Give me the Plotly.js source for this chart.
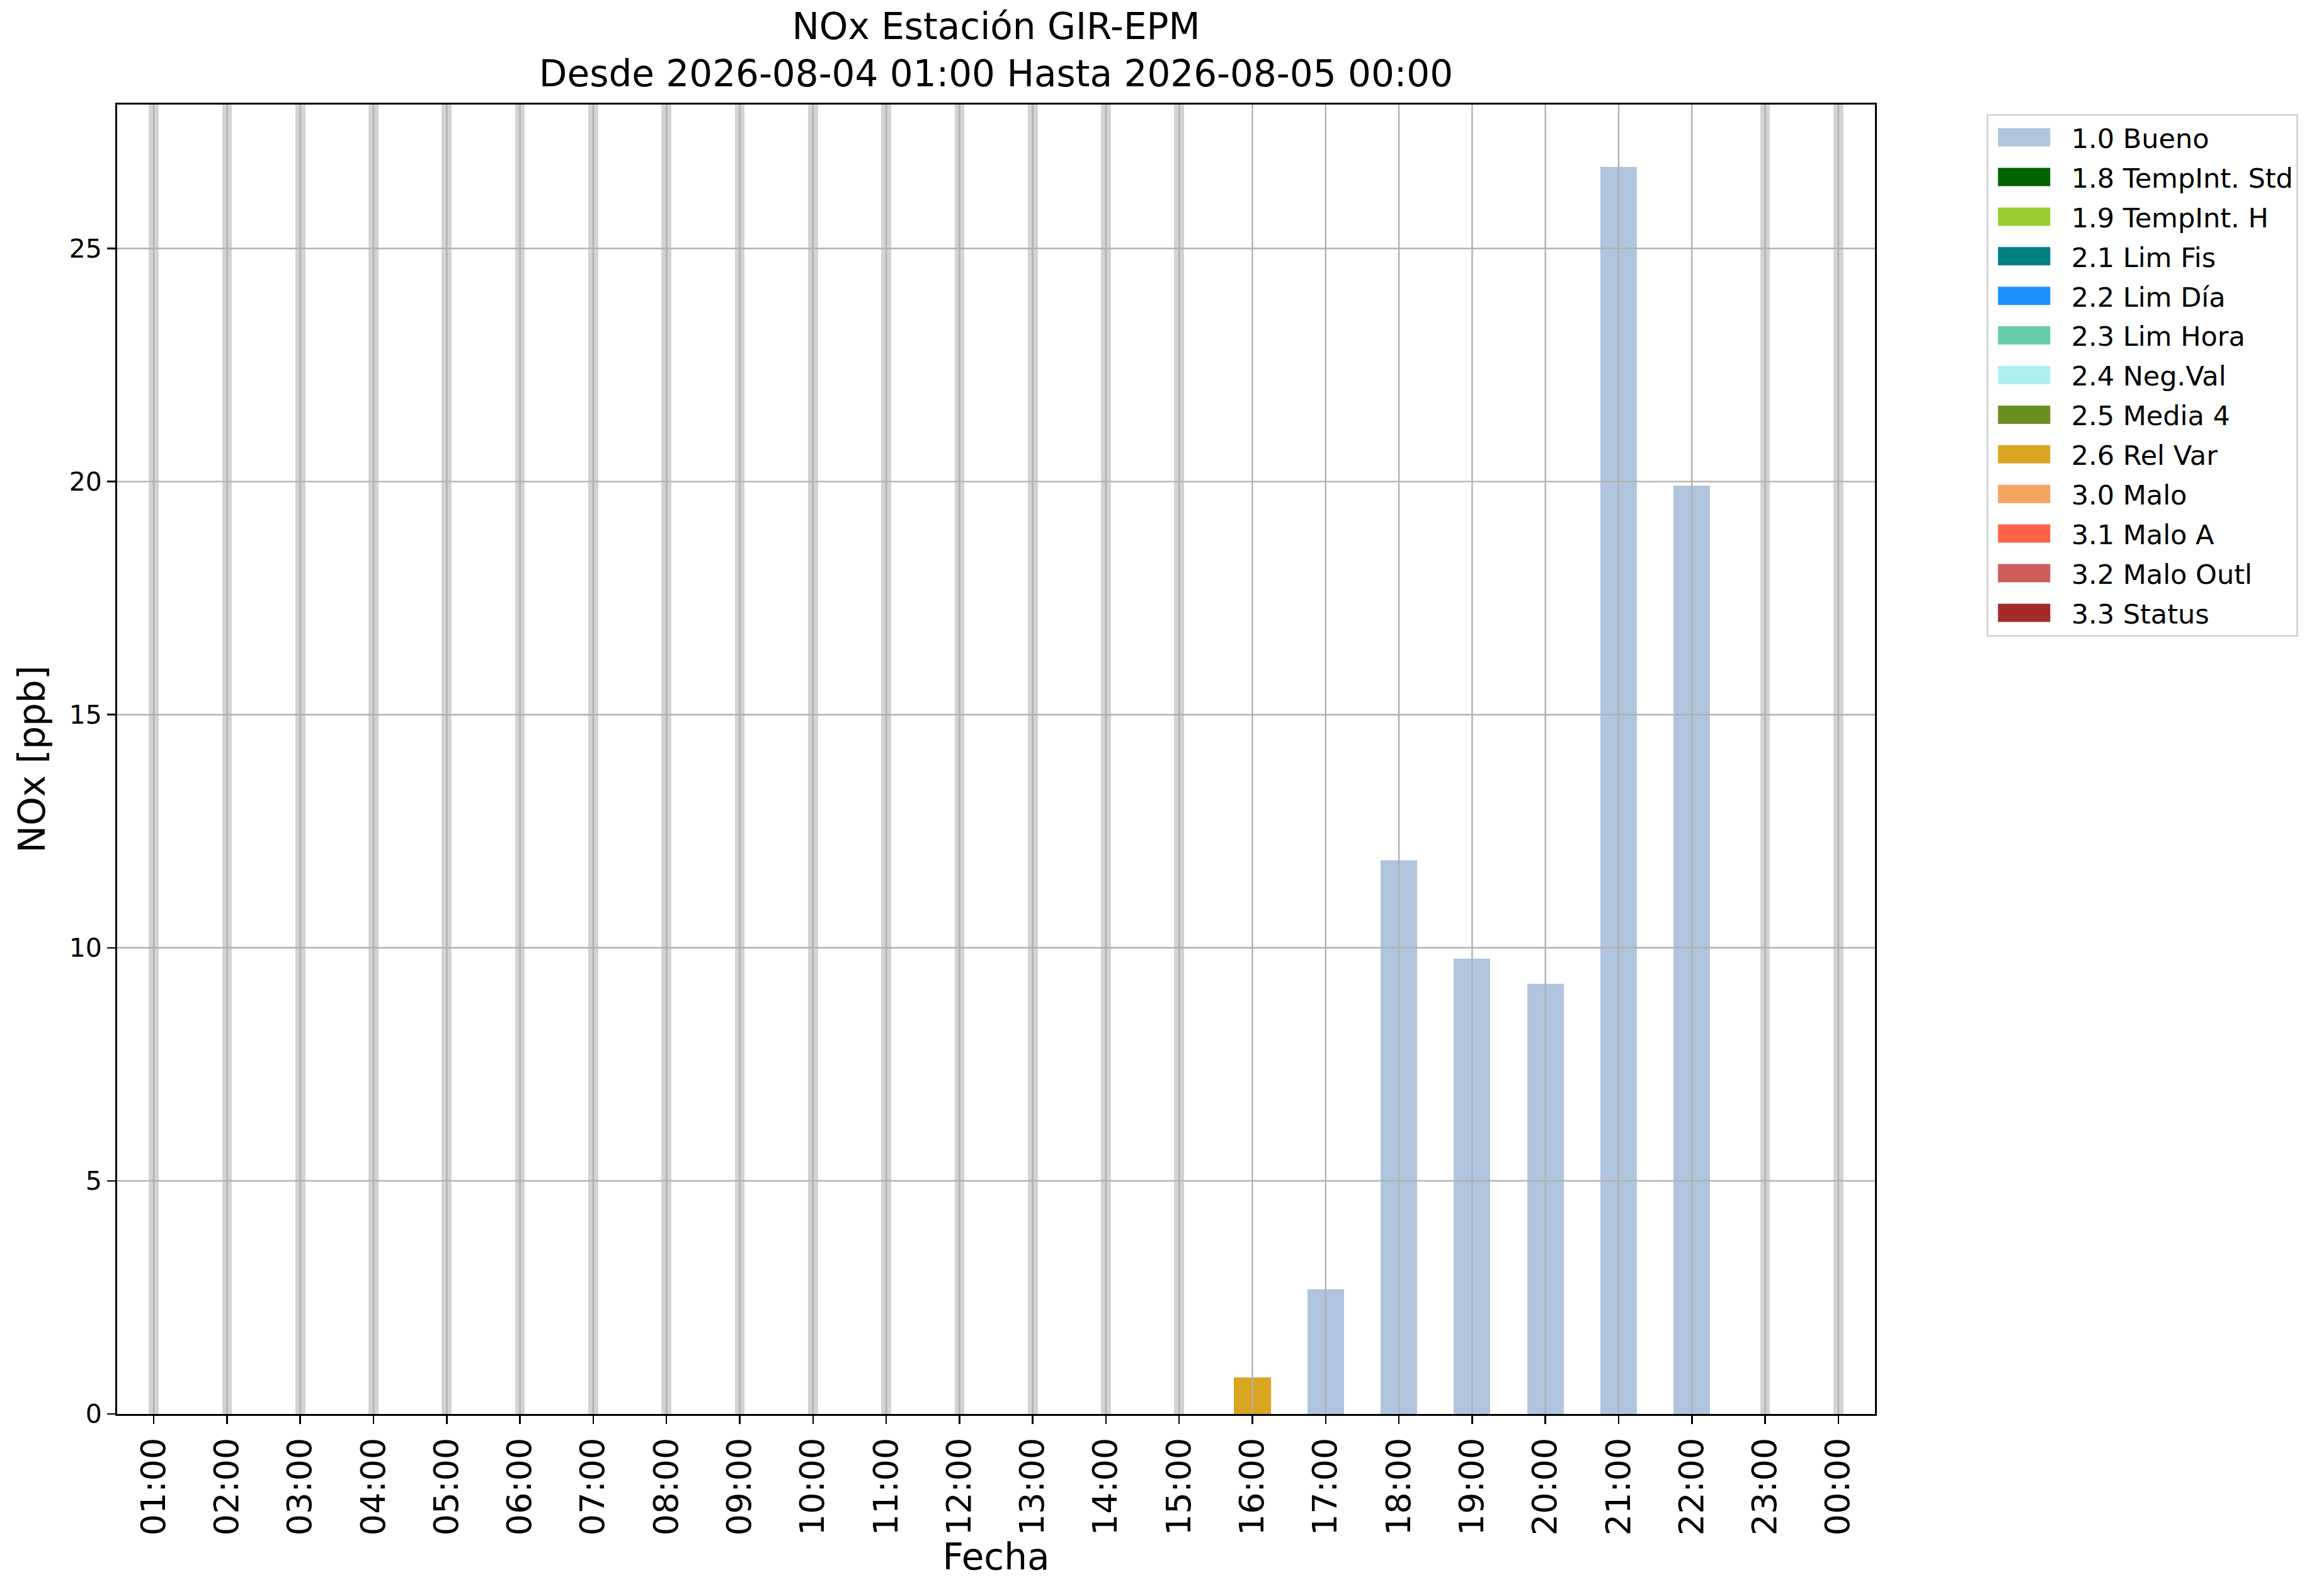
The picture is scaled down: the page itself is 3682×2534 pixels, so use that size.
<!DOCTYPE html>
<html>
<head>
<meta charset="utf-8">
<script src="https://cdn.plot.ly/plotly-3.0.1.min.js"></script>
<style>
  html, body { margin: 0; padding: 0; background: #fff; }
  #chart { width: 3682px; height: 2534px; }
</style>
</head>
<body>
<div id="chart"></div>
<script>
const horas = ['01:00', '02:00', '03:00', '04:00', '05:00', '06:00', '07:00', '08:00',
    '09:00', '10:00', '11:00', '12:00', '13:00', '14:00', '15:00', '16:00',
    '17:00', '18:00', '19:00', '20:00', '21:00', '22:00', '23:00', '00:00'];

// valores de NOx por bandera de calidad (null = sin dato en esa bandera)
const bueno = [null, null, null, null, null, null, null, null,
    null, null, null, null, null, null, null, null,
    2.67, 11.87, 9.77, 9.23, 26.75, 19.92, null, null];
const relVar = [null, null, null, null, null, null, null, null,
    null, null, null, null, null, null, null, 0.79,
    null, null, null, null, null, null, null, null];

// 1 = hora sin dato
const sinDato = [1, 1, 1, 1, 1, 1, 1, 1, 1, 1, 1, 1, 1, 1, 1, 0,
    0, 0, 0, 0, 0, 0, 1, 1];

const banderas = ['1.0 Bueno', '1.8 TempInt. Std', '1.9 TempInt. H', '2.1 Lim Fis',
    '2.2 Lim Día', '2.3 Lim Hora', '2.4 Neg.Val', '2.5 Media 4', '2.6 Rel Var',
    '3.0 Malo', '3.1 Malo A', '3.2 Malo Outl', '3.3 Status'];
const colores = ['#b0c4de', '#006400', '#9acd32', '#008080', '#1e90ff', '#66cdaa',
    '#afeeee', '#6b8e23', '#daa520', '#f4a460', '#ff6347', '#cd5c5c', '#a52a2a'];

const yTicks = [0, 5, 10, 15, 20, 25];

const valoresPorBandera = {
    '1.0 Bueno': bueno,
    '2.6 Rel Var': relVar,
};

const yMax = Math.max(...bueno.filter(v => v != null), ...relVar.filter(v => v != null)) * 1.05;

const FONT = 'DejaVu Sans, Verdana, sans-serif';
const GRID = '#b0b0b0';

const traces = [];

// bandas grises de horas sin dato
traces.push({
    type: 'bar',
    x: horas,
    y: sinDato.map(f => (f ? yMax : null)),
    width: 0.135,
    marker: { color: '#d3d3d3', line: { width: 0 } },
    showlegend: false,
    hoverinfo: 'skip',
});

banderas.forEach((nombre, i) => {
    traces.push({
        type: 'bar',
        name: nombre,
        x: horas,
        y: valoresPorBandera[nombre] ?? horas.map(() => null),
        width: 0.5,
        marker: { color: colores[i], line: { width: 0 } },
        legendgroup: nombre,
    });
});

// rejilla por encima de las barras, como en matplotlib
const shapes = [];
horas.forEach(h => {
    shapes.push({
        type: 'line', layer: 'above', xref: 'x', yref: 'paper',
        x0: h, x1: h, y0: 0, y1: 1,
        line: { color: GRID, width: 2.4 },
    });
});
yTicks.slice(1).forEach(v => {
    shapes.push({
        type: 'line', layer: 'above', xref: 'paper', yref: 'y',
        x0: 0, x1: 1, y0: v, y1: v,
        line: { color: GRID, width: 2.4 },
    });
});

const layout = {
    width: 3682,
    height: 2534,
    barmode: 'stack',
    paper_bgcolor: '#fff',
    plot_bgcolor: '#fff',
    margin: { l: 186, r: 705, t: 166, b: 289 },
    font: { family: FONT, color: '#000' },
    title: {
        text: 'NOx Estación GIR-EPM<br>Desde 2026-08-04 01:00 Hasta 2026-08-05 00:00',
        font: { family: FONT, size: 58, color: '#000' },
        x: 0.5, xref: 'paper', xanchor: 'center',
        y: 1 - 62 / 2534, yref: 'container', yanchor: 'top',
    },
    xaxis: {
        type: 'category',
        range: [-0.5, horas.length - 0.5],
        tickangle: -90,
        tickfont: { family: FONT, size: 54, color: '#000' },
        ticks: 'outside', ticklen: 13, tickwidth: 2.5, tickcolor: '#000',
        showgrid: false, zeroline: false,
        showline: true, linecolor: '#000', linewidth: 3, mirror: true,
        title: { text: 'Fecha', font: { family: FONT, size: 58, color: '#000' }, standoff: 14 },
        automargin: false,
    },
    yaxis: {
        range: [0, yMax],
        tickvals: yTicks,
        ticktext: yTicks.map(String),
        tickfont: { family: FONT, size: 41, color: '#000' },
        ticks: 'outside', ticklen: 13, tickwidth: 2.5, tickcolor: '#000',
        showgrid: false, zeroline: false,
        showline: true, linecolor: '#000', linewidth: 3, mirror: true,
        title: { text: 'NOx [ppb]', font: { family: FONT, size: 58, color: '#000' }, standoff: 20 },
        automargin: false,
    },
    legend: {
        x: 1.0634, xanchor: 'left',
        y: 0.9928, yanchor: 'top',
        font: { family: FONT, size: 43, color: '#000' },
        bgcolor: '#fff',
        bordercolor: '#d6d6d6',
        borderwidth: 2.7,
        itemwidth: 122,
        tracegroupgap: 4,
    },
    shapes: shapes,
    bargap: 0,
};

// rectángulos anchos en la leyenda (en vez del cuadrado pequeño por defecto),
// colocados a 17 px del borde izquierdo del recuadro
function ensancharLeyenda() {
    const bg = document.querySelector('#chart .legend rect.bg');
    if (!bg) return;
    const left = bg.getBoundingClientRect().left + 17;
    document.querySelectorAll('#chart .legendpoints path').forEach(p => {
        p.setAttribute('d', 'M0,14.5H83V-14.5H0Z');
        const dx = left - p.getBoundingClientRect().left;
        p.setAttribute('d', `M${dx},14.5H${dx + 83}V-14.5H${dx}Z`);
    });
}

const gd = document.getElementById('chart');
Plotly.newPlot(gd, traces, layout, { displayModeBar: false, staticPlot: true }).then(() => {
    ensancharLeyenda();
    gd.on('plotly_afterplot', ensancharLeyenda);
});
</script>
</body>
</html>
